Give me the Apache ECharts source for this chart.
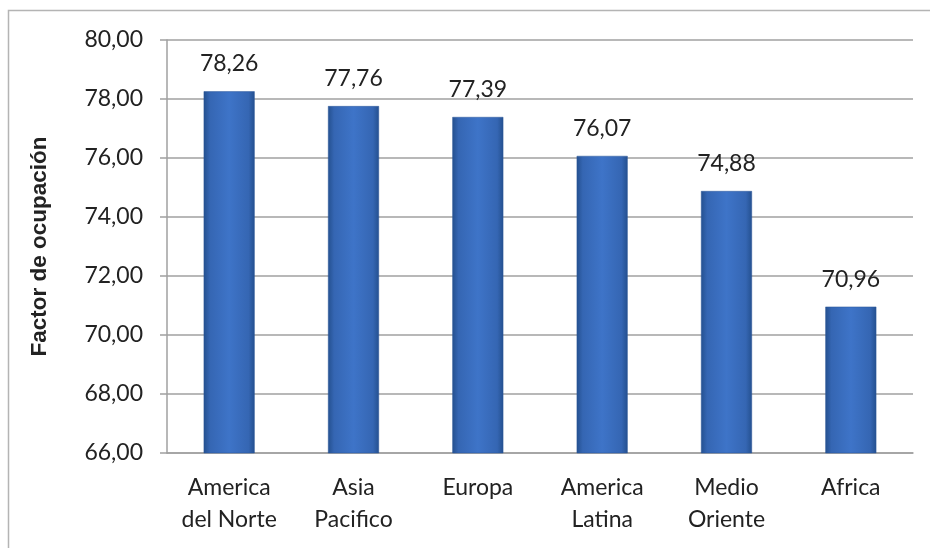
<!DOCTYPE html>
<html>
<head>
<meta charset="utf-8">
<style>
html,body{margin:0;padding:0;background:#fff;}
#chart{width:930px;height:548px;}
</style>
<script src="https://cdn.jsdelivr.net/npm/echarts@6/dist/echarts.min.js"></script>
</head>
<body>
<div id="chart"></div>
<script>
const categories = ['America\ndel Norte', 'Asia\nPacifico', 'Europa', 'America\nLatina', 'Medio\nOriente', 'Africa'];
const values = [78.26, 77.76, 77.39, 76.07, 74.88, 70.96];
const yMin = 66, yMax = 80, yStep = 2;
const yTitle = 'Factor de ocupación';

function fmt(v){ return v.toFixed(2).replace('.', ','); }

const chart = echarts.init(document.getElementById('chart'));
const font = 'Lato, "Open Sans", sans-serif';
chart.setOption({
  animation: false,
  backgroundColor: '#fff',
  graphic: [{
    type: 'rect', silent: true,
    shape: {x: 8.5, y: 10.5, width: 1200, height: 1200},
    style: {fill: 'none', stroke: '#b4b4b4', lineWidth: 1.5}
  }],
  grid: {left: 167, right: 17, top: 40, bottom: 95},
  xAxis: {
    type: 'category', data: categories,
    axisLine: {lineStyle: {color: '#a0a0a0', width: 1.5}},
    axisTick: {show: false},
    axisLabel: {color: '#222', fontSize: 23, fontFamily: font, lineHeight: 32, margin: 19, interval: 0}
  },
  yAxis: {
    type: 'value', min: yMin, max: yMax, interval: yStep,
    name: yTitle, nameLocation: 'middle', nameGap: 116, nameRotate: 90,
    nameTextStyle: {fontSize: 22.5, fontWeight: 'bold', fontFamily: '"Liberation Sans", Arial, sans-serif', color: '#222'},
    axisLine: {show: true, lineStyle: {color: '#a0a0a0', width: 1.5}},
    axisTick: {show: true, length: 7, lineStyle: {color: '#a0a0a0', width: 1.5}},
    splitLine: {lineStyle: {color: '#a0a0a0', width: 1.5}},
    axisLabel: {color: '#222', fontSize: 23, fontFamily: font, margin: 24, formatter: v => fmt(v)}
  },
  series: [{
    type: 'bar', data: values, barWidth: '41%',
    itemStyle: {
      color: new echarts.graphic.LinearGradient(0, 0, 1, 0, [
        {offset: 0, color: '#24508f'},
        {offset: 0.12, color: '#3566b3'},
        {offset: 0.5, color: '#3e74c8'},
        {offset: 0.88, color: '#3566b3'},
        {offset: 1, color: '#24508f'}
      ]),
      borderColor: '#2a5699', borderWidth: 0.5
    },
    label: {show: true, position: 'top', distance: 16, color: '#222', fontSize: 23, fontFamily: font, formatter: p => fmt(p.value)}
  }]
});
</script>
</body>
</html>
